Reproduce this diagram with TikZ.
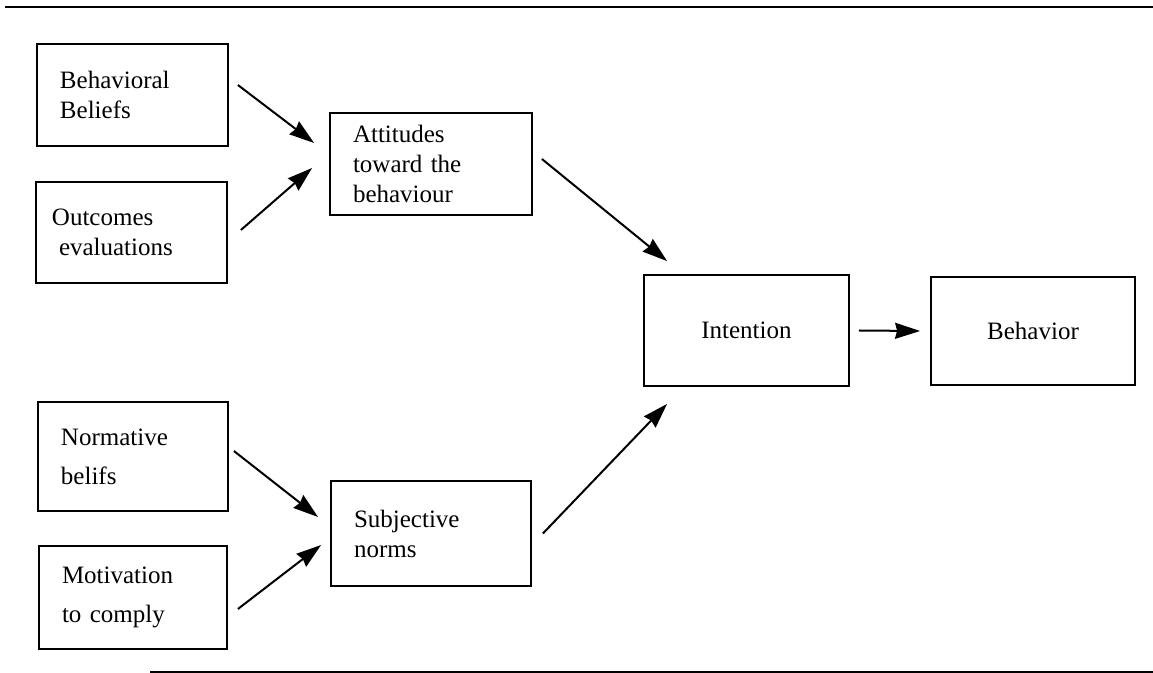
\documentclass[tikz,border=0pt]{standalone}
\usepackage{fontspec}
\setmainfont{Liberation Serif}
\usetikzlibrary{arrows.meta}
\tikzset{
  blk/.style={draw, line width=0.9pt, inner xsep=11.5pt, inner ysep=0pt,
    font=\fontsize{12.5}{15}\selectfont},
  lft/.style={blk, align=left},
  ctr/.style={blk, align=center},
  arr/.style={-{Stealth[length=12.5pt, width=8pt, inset=1pt]}, line width=1pt},
  rul/.style={line width=1pt},
}

\begin{document}
\begin{tikzpicture}[x=0.5pt, y=-0.5pt]
\useasboundingbox (0,0) rectangle (1153,673);
% rules above and below
\draw[rul] (5,7) -- (1153,7);
\draw[rul] (150,672) -- (1153,672);

% attitude side
\node[lft, text width=72.5pt, minimum height=51pt] (bbel) at (132.5,95) {Behavioral\\Beliefs};
\node[lft, text width=72.5pt, minimum height=50.5pt] (outc) at (131.5,232.5) {\hspace*{-3.5pt}Outcomes\\evaluations};
\node[lft, text width=78pt, minimum height=51pt] (attd) at (431,164) {Attitudes\\toward the\\behaviour};

% norm side
\node[lft, text width=72pt, minimum height=54.5pt] (nbel) at (133,456.5) {Normative\\[4.5pt]belifs};
\node[lft, text width=71pt, minimum height=51.5pt] (motv) at (133,597.5) {Motivation\\[4.5pt]to comply};
\node[lft, text width=77pt, minimum height=52.5pt] (subj) at (431,533.5) {Subjective\\norms};

% outcome
\node[ctr, text width=79.5pt, minimum height=55.5pt] (intn) at (746.5,330.5) {Intention};
\node[ctr, text width=79pt, minimum height=54pt] (bhvr) at (1033,331) {Behavior};

\draw[arr] ([xshift=4.5pt, yshift=5pt]bbel.east) -- ([xshift=-7.5pt, yshift=10.5pt]attd.west);
\draw[arr] ([xshift=6.5pt, yshift=1.25pt]outc.east) -- ([xshift=-8.5pt, yshift=-2pt]attd.west);
\draw[arr] ([xshift=2.5pt, yshift=2.75pt]nbel.east) -- ([xshift=-6pt, yshift=8.25pt]subj.west);
\draw[arr] ([xshift=5pt, yshift=-5.75pt]motv.east) -- ([xshift=-4.5pt, yshift=-5.75pt]subj.west);
\draw[arr] ([xshift=4.5pt, yshift=2.5pt]attd.east) -- ([xshift=12pt, yshift=6.5pt]intn.north west);
\draw[arr] ([xshift=5.5pt]subj.east) -- ([xshift=12pt, yshift=-8.5pt]intn.south west);
\draw[arr] ([xshift=4.5pt]intn.east) -- ([xshift=-5pt]bhvr.west);
\end{tikzpicture}
\end{document}
